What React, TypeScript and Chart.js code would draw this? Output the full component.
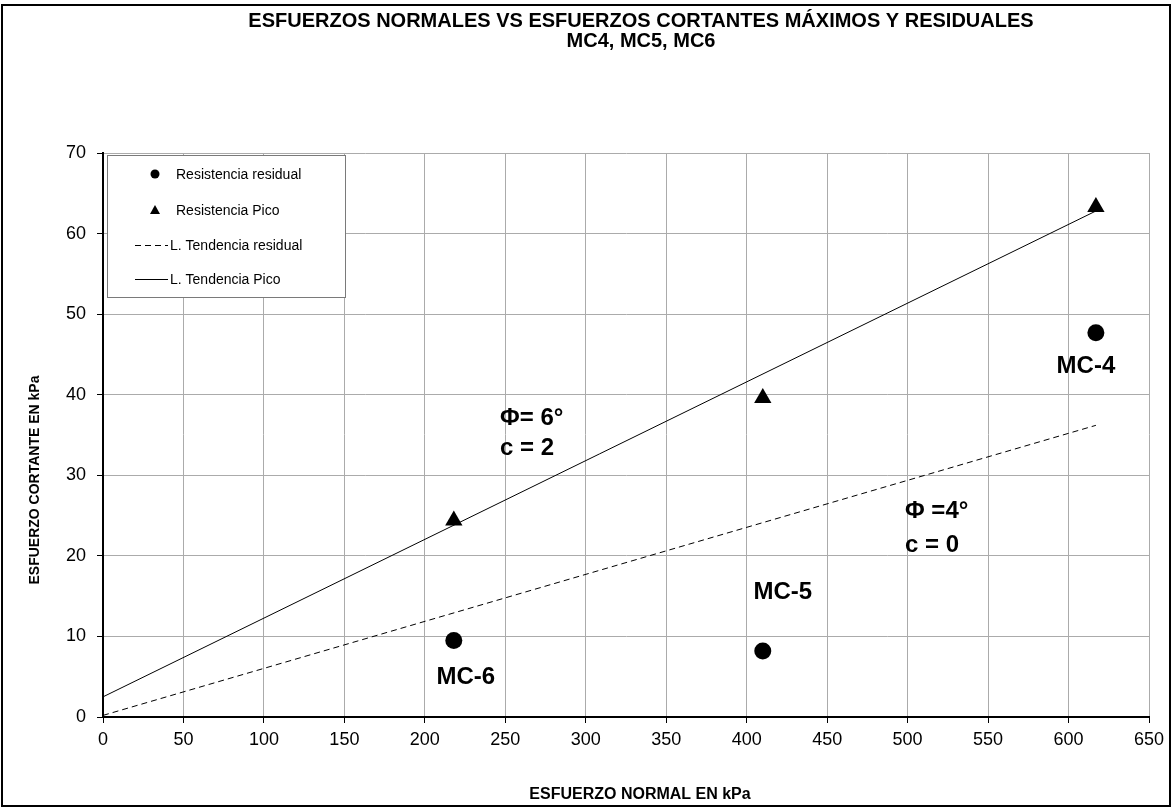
import React, { useEffect, useRef } from "react";
import { Chart, registerables } from "chart.js";

Chart.register(...registerables);

const titleLines = [
  "ESFUERZOS NORMALES VS ESFUERZOS CORTANTES MÁXIMOS Y RESIDUALES",
  "MC4, MC5, MC6",
];
const xAxisTitle = "ESFUERZO NORMAL EN kPa";
const yAxisTitle = "ESFUERZO CORTANTE EN kPa";

const sampleNames = ["MC-6", "MC-5", "MC-4"];
const normalStress = [218, 410, 617];
const residualShear = [9.5, 8.2, 47.7];
const peakShear = [24.4, 39.6, 63.3];

const trendResidualX = [0, 617];
const trendResidualY = [0.2, 36.2];
const trendPeakX = [0, 617];
const trendPeakY = [2.5, 62.8];

const legendLabels = [
  "Resistencia residual",
  "Resistencia Pico",
  "L. Tendencia residual",
  "L. Tendencia Pico",
];

const peakNote = ["Φ= 6°", "c = 2"];
const residualNote = ["Φ =4°", "c = 0"];

const FONT = "Arial, 'Liberation Sans', sans-serif";

export default function App() {
  const ref = useRef<HTMLCanvasElement | null>(null);

  useEffect(() => {
    document.body.style.margin = "0";
    const canvas = ref.current!;
    const toPts = (xs: number[], ys: number[]) => xs.map((x, i) => ({ x, y: ys[i] }));

    const decor = {
      id: "decor",
      afterDraw(chart: any) {
        const ctx = chart.ctx as CanvasRenderingContext2D;
        const xs = chart.scales.x;
        const ys = chart.scales.y;
        ctx.save();
        // outer frame
        ctx.strokeStyle = "#000";
        ctx.lineWidth = 2;
        ctx.strokeRect(2, 5, 1168, 801);

        // titles
        ctx.fillStyle = "#000";
        ctx.textAlign = "center";
        ctx.textBaseline = "middle";
        ctx.font = `bold 20px ${FONT}`;
        ctx.fillText(titleLines[0], 641, 21);
        ctx.fillText(titleLines[1], 641, 41);

        // axis titles
        ctx.font = `bold 16px ${FONT}`;
        ctx.fillText(xAxisTitle, 640, 795);
        ctx.font = `bold 14px ${FONT}`;
        ctx.save();
        ctx.translate(35, 480);
        ctx.rotate(-Math.PI / 2);
        ctx.fillText(yAxisTitle, 0, 0);
        ctx.restore();

        // annotations
        ctx.font = `bold 24px ${FONT}`;
        ctx.textAlign = "left";
        ctx.fillText(peakNote[0], 500, 418);
        ctx.fillText(peakNote[1], 500, 448);
        ctx.fillText(residualNote[0], 905, 511);
        ctx.fillText(residualNote[1], 905, 545);
        ctx.textAlign = "center";
        const labelDy = [37, -59, 34];
        const labelDx = [12, 20, -10];
        sampleNames.forEach((n, i) => {
          const px = xs.getPixelForValue(normalStress[i]);
          const py = ys.getPixelForValue(residualShear[i]);
          ctx.fillText(n, px + labelDx[i], py + labelDy[i]);
        });

        // legend
        const lx = 107, ly = 155, lw = 238, lh = 142;
        ctx.fillStyle = "#fff";
        ctx.fillRect(lx, ly, lw, lh);
        ctx.strokeStyle = "#7a7a7a";
        ctx.lineWidth = 1;
        ctx.strokeRect(lx + 0.5, ly + 0.5, lw, lh);
        const rows = [174, 210, 245, 279];
        ctx.fillStyle = "#000";
        ctx.font = `14px ${FONT}`;
        ctx.textAlign = "left";
        ctx.textBaseline = "middle";
        ctx.beginPath();
        ctx.arc(155, rows[0], 4.5, 0, Math.PI * 2);
        ctx.fill();
        ctx.fillText(legendLabels[0], 176, rows[0] + 1);
        ctx.beginPath();
        ctx.moveTo(155, rows[1] - 5);
        ctx.lineTo(160, rows[1] + 4);
        ctx.lineTo(150, rows[1] + 4);
        ctx.closePath();
        ctx.fill();
        ctx.fillText(legendLabels[1], 176, rows[1] + 1);
        ctx.strokeStyle = "#000";
        ctx.lineWidth = 1;
        ctx.setLineDash([6, 4]);
        ctx.beginPath();
        ctx.moveTo(135, rows[2] + 0.5);
        ctx.lineTo(168, rows[2] + 0.5);
        ctx.stroke();
        ctx.setLineDash([]);
        ctx.fillText(legendLabels[2], 170, rows[2] + 1);
        ctx.beginPath();
        ctx.moveTo(135, rows[3] + 0.5);
        ctx.lineTo(168, rows[3] + 0.5);
        ctx.stroke();
        ctx.fillText(legendLabels[3], 170, rows[3] + 1);
        ctx.restore();
      },
    };

    const chart = new Chart(canvas, {
      type: "scatter",
      data: {
        datasets: [
          {
            label: legendLabels[2],
            data: toPts(trendResidualX, trendResidualY),
            showLine: true,
            borderColor: "#000",
            borderWidth: 1,
            borderDash: [6, 4],
            pointRadius: 0,
            fill: false,
          } as any,
          {
            label: legendLabels[3],
            data: toPts(trendPeakX, trendPeakY),
            showLine: true,
            borderColor: "#000",
            borderWidth: 1,
            pointRadius: 0,
            fill: false,
          } as any,
          {
            label: legendLabels[0],
            data: toPts(normalStress, residualShear),
            pointStyle: "circle",
            pointRadius: 8.5,
            backgroundColor: "#000",
            borderColor: "#000",
            borderWidth: 0,
          },
          {
            label: legendLabels[1],
            data: toPts(normalStress, peakShear),
            pointStyle: "triangle",
            pointRadius: 10,
            backgroundColor: "#000",
            borderColor: "#000",
            borderWidth: 0,
          },
        ],
      },
      options: {
        responsive: false,
        animation: false,
        events: [],
        layout: { padding: { top: 153, right: 24, left: 0, bottom: 0 } },
        plugins: { legend: { display: false }, title: { display: false }, tooltip: { enabled: false } },
        scales: {
          x: {
            type: "linear",
            min: 0,
            max: 650,
            afterFit: (s: any) => { s.height = 91; },
            ticks: { stepSize: 50, color: "#000", font: { family: FONT, size: 18 }, padding: 6, maxRotation: 0 },
            grid: { color: "#ababab", lineWidth: 1, tickColor: "#000", tickLength: 6 },
            border: { color: "#000", width: 2 },
          },
          y: {
            type: "linear",
            min: 0,
            max: 70,
            afterFit: (s: any) => { s.width = 103; },
            ticks: { stepSize: 10, color: "#000", font: { family: FONT, size: 18 }, padding: 11 },
            grid: { color: "#ababab", lineWidth: 1, tickColor: "#000", tickLength: 6 },
            border: { color: "#000", width: 2 },
          },
        },
      },
      plugins: [decor],
    });
    return () => chart.destroy();
  }, []);

  return <canvas ref={ref} width={1173} height={808} style={{ display: "block" }} />;
}
